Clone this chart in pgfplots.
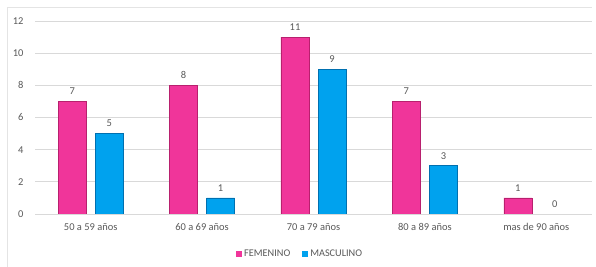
\documentclass[border=0pt]{standalone}
\usepackage{fontspec}
\setmainfont{Carlito}
\usepackage{pgfplots}
\pgfplotsset{compat=1.18}
\definecolor{pinkF}{HTML}{F0359A}
\definecolor{pinkD}{HTML}{B8206E}
\definecolor{blueM}{HTML}{00A2EE}
\definecolor{blueD}{HTML}{0070B0}
\definecolor{txt}{HTML}{595959}
\definecolor{gridc}{HTML}{D9D9D9}
\begin{document}
\begin{tikzpicture}
\useasboundingbox (0,0) rectangle (596bp,267bp);
\fill[white] (0,0) rectangle (596bp,267bp);
\draw[gridc!70, line width=0.8bp] (7bp,0bp) -- (7bp,260bp) -- (592bp,260bp);
\begin{axis}[
  at={(35bp,53bp)}, anchor=south west,
  scale only axis, width=557bp, height=193bp,
  ybar=9bp, bar width=28bp,
  xmin=-0.5, xmax=4.5, ymin=0, ymax=12,
  xtick=data,
  xticklabels={50 a 59 años,60 a 69 años,70 a 79 años,80 a 89 años,mas de 90 años},
  ytick={0,2,...,12},
  yticklabels={0,2,4,6,8,10,12},
  ymajorgrids, xmajorgrids=false, grid style={draw=gridc, line width=0.8bp},
  axis line style={draw=none},
  major tick length=0pt,
  tick label style={font=\fontsize{10.5}{12}\selectfont, text=txt},
  /pgf/number format/assume math mode=true,
  every y tick label/.style={anchor=east, xshift=-8bp},
  xticklabel style={yshift=-6bp},
  nodes near coords,
  every node near coord/.append style={font=\fontsize{10.5}{12}\selectfont, text=txt, yshift=3bp},
  legend style={at={(0.476,-0.205)}, anchor=center, draw=none, legend columns=2,
    font=\fontsize{10.3}{12}\selectfont, text=txt,
    /tikz/every even column/.append style={column sep=10bp}},
  legend image code/.code={\draw[#1, draw=none] (0bp,-3bp) rectangle (6bp,3bp);},
  legend cell align=left,
]
\draw[gridc, line width=0.8bp] (axis cs:-0.5,0) -- (axis cs:4.5,0);
\addplot[fill=pinkF, draw=pinkD, line width=0.5bp] coordinates {(0,7) (1,8) (2,11) (3,7) (4,1)};
\addplot[fill=blueM, draw=blueD, line width=0.5bp] coordinates {(0,5) (1,1) (2,9) (3,3) (4,0)};
\legend{FEMENINO, MASCULINO}
\end{axis}
\end{tikzpicture}
\end{document}
